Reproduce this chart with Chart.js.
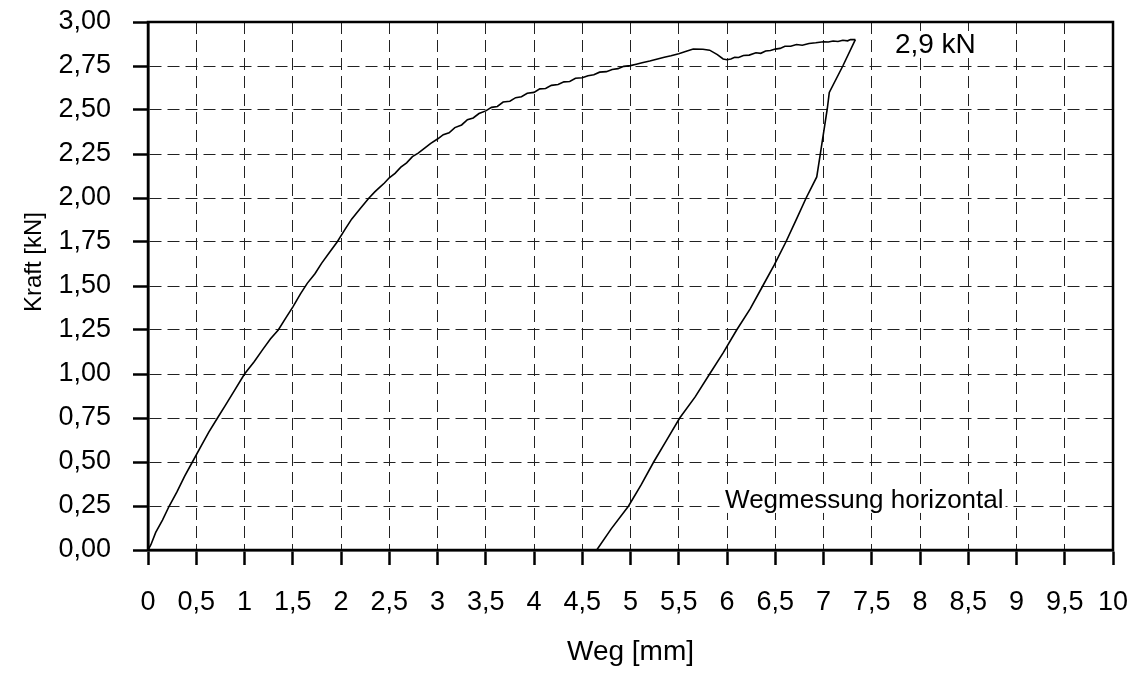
<!DOCTYPE html>
<html>
<head>
<meta charset="utf-8">
<title>Kraft-Weg-Diagramm</title>
<script src="https://cdn.jsdelivr.net/npm/chart.js@4.4.0/dist/chart.umd.min.js"></script>
<style>
  html, body { margin: 0; padding: 0; background: #fff; }
  #wrap { width: 1140px; height: 674px; }
</style>
</head>
<body>
<div id="wrap"><canvas id="chart" width="1140" height="674"></canvas></div>
<script>
// Belastung: Weg [mm] / Kraft [kN]
const peakForce = 2.9;
const loadWeg = [
  0, 0.03, 0.08, 0.15, 0.22, 0.30, 0.38, 0.46, 0.55, 0.63,
  0.72, 0.80, 0.90, 1.00, 1.10, 1.19, 1.27, 1.35, 1.43, 1.50,
  1.58, 1.65, 1.73, 1.80, 1.88, 1.96, 2.04, 2.11, 2.20, 2.29,
  2.35, 2.40, 2.45, 2.50, 2.56, 2.62, 2.68, 2.74, 2.80, 2.87,
  2.93, 3.00, 3.06, 3.12, 3.18, 3.25, 3.31, 3.37, 3.43, 3.50,
  3.56, 3.62, 3.68, 3.75, 3.81, 3.87, 3.93, 4.00, 4.06, 4.12,
  4.18, 4.25, 4.31, 4.37, 4.43, 4.50, 4.56, 4.62, 4.68, 4.75,
  4.81, 4.87, 4.93, 5.00, 5.06, 5.12, 5.20, 5.28, 5.35, 5.42,
  5.50, 5.57, 5.65, 5.75, 5.82, 5.90, 5.96, 6.00, 6.04, 6.08,
  6.12, 6.17, 6.23, 6.30, 6.35, 6.40, 6.45, 6.50, 6.55, 6.60,
  6.66, 6.72, 6.78, 6.85, 6.92, 7.00, 7.05, 7.10, 7.15, 7.20,
  7.25, 7.28, 7.33];
const loadKraft = [
  0, 0.03, 0.10, 0.17, 0.25, 0.33, 0.42, 0.50, 0.59, 0.67,
  0.75, 0.82, 0.91, 1.00, 1.07, 1.14, 1.20, 1.25, 1.32, 1.38,
  1.455, 1.515, 1.57, 1.63, 1.69, 1.75, 1.82, 1.88, 1.94, 2.00,
  2.035, 2.06, 2.085, 2.115, 2.14, 2.175, 2.20, 2.235, 2.255, 2.285,
  2.31, 2.335, 2.36, 2.37, 2.40, 2.415, 2.445, 2.455, 2.48, 2.495,
  2.515, 2.52, 2.545, 2.55, 2.57, 2.575, 2.595, 2.60, 2.62, 2.622,
  2.64, 2.645, 2.66, 2.662, 2.68, 2.683, 2.695, 2.70, 2.715, 2.718,
  2.73, 2.735, 2.748, 2.752, 2.76, 2.768, 2.778, 2.79, 2.80, 2.808,
  2.82, 2.832, 2.846, 2.845, 2.84, 2.815, 2.79, 2.786, 2.79, 2.80,
  2.798, 2.81, 2.812, 2.825, 2.822, 2.835, 2.838, 2.846, 2.85, 2.862,
  2.862, 2.872, 2.868, 2.878, 2.882, 2.888, 2.886, 2.892, 2.889, 2.896,
  2.893, 2.90, peakForce];

// Entlastung
const unloadWeg = [7.33, 7.20, 7.06, 7.04, 6.97, 6.93, 6.82, 6.72, 6.61, 6.49, 6.37, 6.24, 6.10,
  5.96, 5.82, 5.67, 5.51, 5.37, 5.24, 5.11, 4.98, 4.80, 4.65];
const unloadKraft = [peakForce, 2.75, 2.60, 2.51, 2.26, 2.12, 2.00, 1.88, 1.75, 1.62, 1.50, 1.37, 1.25,
  1.12, 1.00, 0.87, 0.75, 0.62, 0.50, 0.37, 0.25, 0.12, 0.00];

const xTickLabels = ['0', '0,5', '1', '1,5', '2', '2,5', '3', '3,5', '4', '4,5', '5',
  '5,5', '6', '6,5', '7', '7,5', '8', '8,5', '9', '9,5', '10'];
const yTickLabels = ['0,00', '0,25', '0,50', '0,75', '1,00', '1,25', '1,50',
  '1,75', '2,00', '2,25', '2,50', '2,75', '3,00'];

const peakText = peakForce.toFixed(1).replace('.', ',') + ' kN';
const noteText = 'Wegmessung horizontal';
const yTitle = 'Kraft [kN]';

const FONT = '"Liberation Sans", Arial, sans-serif';

const toPoints = (xs, ys) => xs.map((v, i) => ({ x: v, y: ys[i] }));

// solid frame around the plot area, plus the rotated y title
const frame = {
  id: 'frame',
  afterDatasetsDraw(chart) {
    const { ctx, chartArea: a } = chart;
    ctx.save();
    ctx.strokeStyle = '#000';
    ctx.lineWidth = 2.5;
    ctx.strokeRect(a.left, a.top, a.right - a.left, a.bottom - a.top);

    ctx.translate(34, 262);
    ctx.rotate(-Math.PI / 2);
    ctx.font = '24px "Liberation Sans Narrow", ' + FONT;
    ctx.fillStyle = '#000';
    ctx.textAlign = 'center';
    ctx.textBaseline = 'middle';
    ctx.fillText(yTitle, 0, 0);
    ctx.restore();
  }
};

// text notes on white boxes, covering the grid but not the curve
const notes = {
  id: 'notes',
  beforeDatasetsDraw(chart) {
    const { ctx, scales: { x, y } } = chart;
    ctx.save();
    ctx.textBaseline = 'alphabetic';
    [[7.74, 2.824, peakText, 28], [5.98, 0.239, noteText, 26]].forEach(([vx, vy, t, size]) => {
      ctx.font = size + 'px ' + FONT;
      const px = x.getPixelForValue(vx);
      const py = y.getPixelForValue(vy);
      const w = ctx.measureText(t).width;
      ctx.fillStyle = '#fff';
      ctx.fillRect(px - 2, py - 22, w + 4, 27);
      ctx.fillStyle = '#000';
      ctx.fillText(t, px, py);
    });
    ctx.restore();
  }
};

const gridOpts = {
  color: '#222',
  lineWidth: 1,
  tickLength: 15,
  tickWidth: 2.5,
  tickColor: '#000',
  tickBorderDash: []
};
const borderOpts = { display: true, color: '#000', width: 2.5, dash: [12, 6] };

new Chart(document.getElementById('chart'), {
  type: 'line',
  data: {
    datasets: [
      { data: toPoints(loadWeg, loadKraft), borderColor: '#000', borderWidth: 1.6, pointRadius: 0, tension: 0 },
      { data: toPoints(unloadWeg, unloadKraft), borderColor: '#000', borderWidth: 1.6, pointRadius: 0, tension: 0 }
    ]
  },
  options: {
    responsive: false,
    animation: false,
    devicePixelRatio: 1,
    layout: { padding: { top: 22, right: 27, left: 0, bottom: 0 } },
    plugins: { legend: { display: false }, tooltip: { enabled: false } },
    scales: {
      x: {
        type: 'linear',
        min: 0,
        max: 10,
        afterFit: s => { s.height = 124; s.paddingLeft = 0; s.paddingRight = 0; },
        ticks: {
          stepSize: 0.5,
          autoSkip: false,
          maxRotation: 0,
          padding: 21,
          color: '#000',
          font: { family: FONT, size: 27 },
          callback: (v, i) => xTickLabels[i]
        },
        grid: gridOpts,
        border: borderOpts,
        title: { display: true, text: 'Weg [mm]', color: '#000', font: { family: FONT, size: 28 }, padding: { top: 0, bottom: 5 } }
      },
      y: {
        min: 0,
        max: 3,
        afterFit: s => { s.width = 148; s.paddingTop = 0; s.paddingBottom = 0; },
        ticks: {
          stepSize: 0.25,
          padding: 22,
          color: '#000',
          font: { family: FONT, size: 27 },
          callback: (v, i) => yTickLabels[i]
        },
        grid: gridOpts,
        border: borderOpts
      }
    }
  },
  plugins: [notes, frame]
});
</script>
</body>
</html>
